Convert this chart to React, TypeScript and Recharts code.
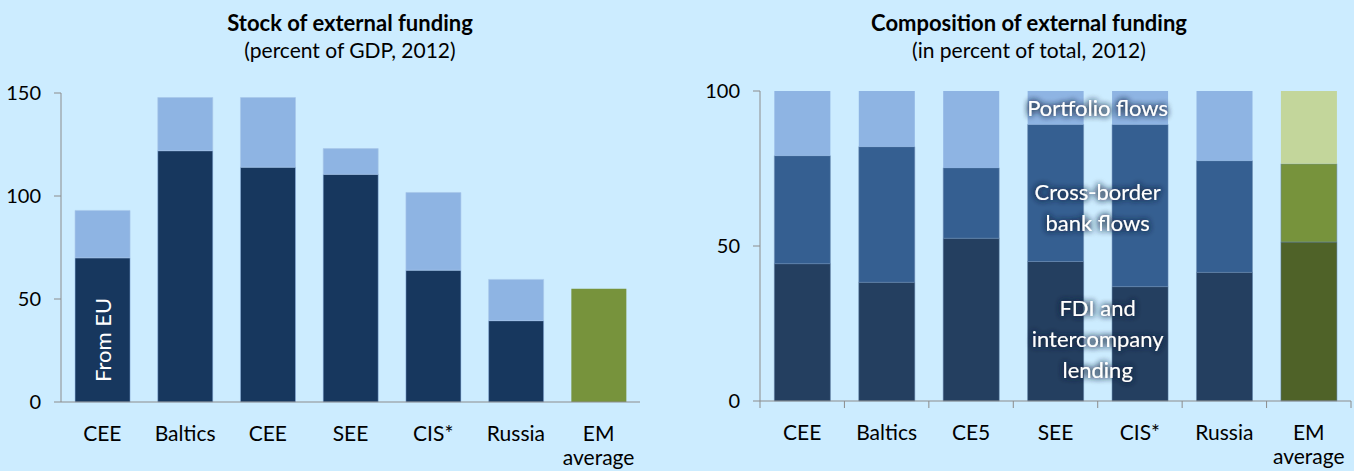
import React from 'react';
import { Bar, BarChart, Cell, LabelList, XAxis, YAxis } from 'recharts';

// left panel: stock of external funding, percent of GDP
const leftCategories = ['CEE', 'Baltics', 'CEE', 'SEE', 'CIS*', 'Russia', 'EM\naverage'];
const fromEU = [70, 122, 114, 110.5, 64, 39.5, 0];
const fromOther = [23, 25.8, 33.8, 12.5, 37.7, 20, 0];
const emStock = [0, 0, 0, 0, 0, 0, 55];
const leftTicks = [0, 50, 100, 150];

// right panel: composition, percent of total
const rightCategories = ['CEE', 'Baltics', 'CE5', 'SEE', 'CIS*', 'Russia', 'EM\naverage'];
const fdiShare = [44.3, 38.3, 52.5, 45, 36.9, 41.5, 51.3];
const crossBorderShare = [34.8, 43.7, 22.7, 44.2, 52.3, 36, 25.2];
const portfolioShare = [20.9, 18, 24.8, 10.8, 10.8, 22.5, 23.5];
const rightTicks = [0, 50, 100];

const BG = '#CCECFF';
const AXIS = '#8C8C8C';
const FONT = "Lato, 'Open Sans', sans-serif";
const GAP = 0.17; // per side of each band

const leftData = leftCategories.map((name, i) => ({
  name,
  eu: fromEU[i],
  other: fromOther[i],
  em: emStock[i],
}));

const rightData = rightCategories.map((name, i) => ({
  name,
  fdi: fdiShare[i],
  cross: crossBorderShare[i],
  portfolio: portfolioShare[i],
}));

const isEM = (name: string) => name.startsWith('EM');

const LEFT_W = 680;
const LEFT_MARGIN = { top: 93, right: 40, left: 11, bottom: 9 };
const LEFT_YW = 50;
const RIGHT_W = 674;
const RIGHT_MARGIN = { top: 91, right: 3, left: 20, bottom: 10 };
const RIGHT_YW = 60;
const H = 471;

function CategoryTick(props: any) {
  const { x, y, payload, index, band, marks, count } = props;
  const lines = String(payload.value).split('\n');
  return (
    <g>
      {marks && <line x1={x - band / 2} x2={x - band / 2} y1={y} y2={y + 7} stroke={AXIS} />}
      {marks && index === count - 1 && (
        <line x1={x + band / 2} x2={x + band / 2} y1={y} y2={y + 7} stroke={AXIS} />
      )}
      {lines.map((l, k) => (
        <text key={k} x={x} y={y + 39 + k * 24} textAnchor='middle' fill='#000' fontSize={21} fontFamily={FONT}>
          {l}
        </text>
      ))}
    </g>
  );
}

function FromEULabel(props: any) {
  const { x, y, width, height, index } = props;
  if (index !== 0) return null;
  const cx = x + width / 2;
  const cy = y + height - 62;
  return (
    <text x={cx} y={cy} transform={`rotate(-90 ${cx} ${cy})`} textAnchor='middle' dominantBaseline='central'
      fill='#fff' fontSize={22} fontFamily={FONT}>
      From EU
    </text>
  );
}

function makeAnnotation(lines: string[], shift: number) {
  return function Annotation(props: any) {
    const { x, y, width, height, index } = props;
    if (index !== 4) return null;
    const band = width / (1 - 2 * GAP);
    const cx = x + width / 2 - band / 2;
    const cy = y + height / 2 + shift;
    const step = 31;
    const start = cy - ((lines.length - 1) * step) / 2;
    return (
      <g filter='url(#glow)'>
        {lines.map((l, k) => (
          <text key={k} x={cx} y={start + k * step} textAnchor='middle' dominantBaseline='central'
            fill='#fff' fontSize={22} fontFamily={FONT}>
            {l}
          </text>
        ))}
      </g>
    );
  };
}

const PortfolioNote = makeAnnotation(['Portfolio flows'], 0);
const CrossNote = makeAnnotation(['Cross-border', 'bank flows'], 1);
const FdiNote = makeAnnotation(['FDI and', 'intercompany', 'lending'], -5);

const titleStyle: React.CSSProperties = {
  position: 'absolute',
  width: 520,
  textAlign: 'center',
  fontFamily: FONT,
  lineHeight: '28px',
  color: '#000',
};

export default function App() {
  const leftBand = (LEFT_W - LEFT_MARGIN.left - LEFT_MARGIN.right - LEFT_YW) / leftCategories.length;
  const rightBand = (RIGHT_W - RIGHT_MARGIN.left - RIGHT_MARGIN.right - RIGHT_YW) / rightCategories.length;

  return (
    <div style={{ position: 'absolute', left: 0, top: 0, width: 1354, height: H, background: BG, overflow: 'hidden' }}>
      <div style={{ ...titleStyle, left: 350 - 260, top: 9, fontSize: 22, fontWeight: 'bold' }}>Stock of external funding</div>
      <div style={{ ...titleStyle, left: 350 - 260, top: 36, fontSize: 21 }}>(percent of GDP, 2012)</div>
      <div style={{ ...titleStyle, left: 1029 - 260, top: 9, fontSize: 22, fontWeight: 'bold' }}>Composition of external funding</div>
      <div style={{ ...titleStyle, left: 1029 - 260, top: 36, fontSize: 21 }}>(in percent of total, 2012)</div>

      <div style={{ position: 'absolute', left: 0, top: 0 }}>
        <BarChart width={LEFT_W} height={H} data={leftData} margin={LEFT_MARGIN} barCategoryGap='17%'>
          <XAxis dataKey='name' height={60} axisLine={{ stroke: AXIS }} tickLine={false} tickSize={0} tickMargin={0}
            interval={0} tick={(p: any) => <CategoryTick {...p} band={leftBand} />} />
          <YAxis width={LEFT_YW} domain={[0, 150]} ticks={leftTicks} axisLine={{ stroke: AXIS }}
            tickLine={{ stroke: AXIS }} tickSize={7} tickMargin={13}
            tick={{ fill: '#000', fontSize: 20, fontFamily: FONT }} />
          <Bar dataKey='eu' stackId='s' fill='#17375E' stroke='#8EB4E3' strokeOpacity={0.5} isAnimationActive={false}>
            <LabelList dataKey='eu' content={FromEULabel} />
          </Bar>
          <Bar dataKey='other' stackId='s' fill='#8EB4E3' stroke='#A9C6EA' strokeOpacity={0.6} isAnimationActive={false} />
          <Bar dataKey='em' stackId='s' fill='#77933C' isAnimationActive={false} />
        </BarChart>
      </div>

      <div style={{ position: 'absolute', left: 680, top: 0 }}>
        <BarChart width={RIGHT_W} height={H} data={rightData} margin={RIGHT_MARGIN} barCategoryGap='17%'>
          <defs>
            <filter id='glow' x='-20%' y='-40%' width='140%' height='180%'>
              <feGaussianBlur in='SourceAlpha' stdDeviation='3' result='blur' />
              <feFlood floodColor='#1B2C45' floodOpacity='1' result='color' />
              <feComposite in='color' in2='blur' operator='in' result='shadow' />
              <feMerge>
                <feMergeNode in='shadow' />
                <feMergeNode in='shadow' />
                <feMergeNode in='SourceGraphic' />
              </feMerge>
            </filter>
          </defs>
          <XAxis dataKey='name' height={60} axisLine={{ stroke: AXIS }} tickLine={false} tickSize={0} tickMargin={0}
            interval={0}
            tick={(p: any) => <CategoryTick {...p} band={rightBand} marks count={rightCategories.length} />} />
          <YAxis width={RIGHT_YW} domain={[0, 100]} ticks={rightTicks} axisLine={{ stroke: AXIS }}
            tickLine={{ stroke: AXIS }} tickSize={7} tickMargin={13}
            tick={{ fill: '#000', fontSize: 20, fontFamily: FONT }} />
          <Bar dataKey='fdi' stackId='s' stroke='#5A7BA3' strokeOpacity={0.5} isAnimationActive={false}>
            {rightData.map((d, i) => (
              <Cell key={i} fill={isEM(d.name) ? '#4F6228' : '#243F60'} />
            ))}
            <LabelList dataKey='fdi' content={FdiNote} />
          </Bar>
          <Bar dataKey='cross' stackId='s' stroke='#6F8FB8' strokeOpacity={0.5} isAnimationActive={false}>
            {rightData.map((d, i) => (
              <Cell key={i} fill={isEM(d.name) ? '#77933C' : '#355F91'} />
            ))}
            <LabelList dataKey='cross' content={CrossNote} />
          </Bar>
          <Bar dataKey='portfolio' stackId='s' isAnimationActive={false}>
            {rightData.map((d, i) => (
              <Cell key={i} fill={isEM(d.name) ? '#C3D69B' : '#8EB4E3'} />
            ))}
            <LabelList dataKey='portfolio' content={PortfolioNote} />
          </Bar>
        </BarChart>
      </div>
    </div>
  );
}
